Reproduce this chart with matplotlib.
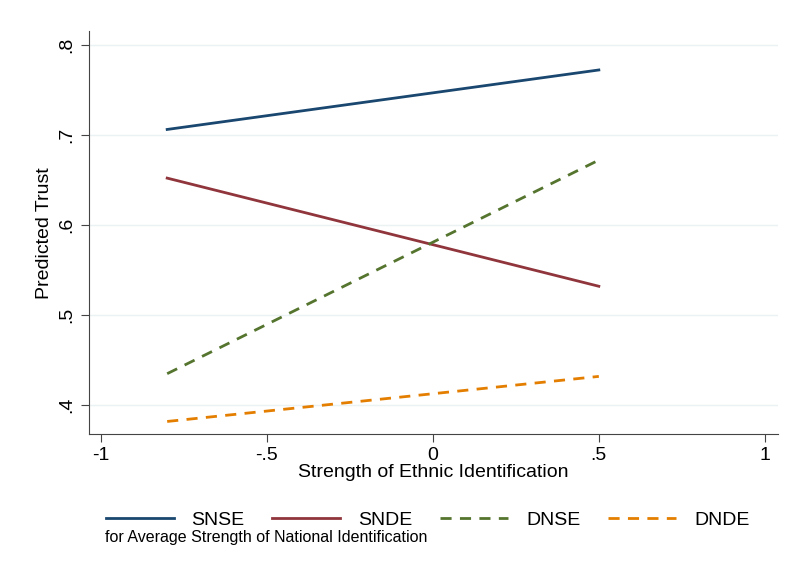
import matplotlib
matplotlib.use("Agg")
import matplotlib.pyplot as plt

plt.rcParams['font.family'] = ['Liberation Sans', 'DejaVu Sans']

x = [-0.8, 0.5]
snse = [0.706, 0.772]
snde = [0.652, 0.532]
dnse = [0.435, 0.672]
dnde = [0.382, 0.432]
labels = ['SNSE', 'SNDE', 'DNSE', 'DNDE']
colors = ['#1a476f', '#90353b', '#55752f', '#e37e00']
styles = ['-', '-', (0, (4, 3)), (0, (4, 3))]

xticks = [-1, -0.5, 0, 0.5, 1]
xticklabels = ['-1', '-.5', '0', '.5', '1']
yticks = [0.4, 0.5, 0.6, 0.7, 0.8]
yticklabels = ['.4', '.5', '.6', '.7', '.8']

fig = plt.figure(figsize=(7.86, 5.78), dpi=100)
ax = fig.add_axes([0.113, 0.249, 0.877, 0.697])

handles = []
for ys, lab, c, ls in zip([snse, snde, dnse, dnde], labels, colors, styles):
    h, = ax.plot(x, ys, color=c, lw=2, linestyle=ls, label=lab)
    handles.append(h)

ax.set_xlim(-1.036, 1.04)
ax.set_ylim(0.368, 0.815)
ax.set_xticks(xticks)
ax.set_xticklabels(xticklabels, fontsize=14)
ax.set_yticks(yticks)
ax.set_yticklabels(yticklabels, fontsize=14, rotation=90, va='center')
ax.grid(axis='y', color='#eaf2f3', lw=1)
ax.set_axisbelow(True)
for s in ['top', 'right']:
    ax.spines[s].set_visible(False)
for s in ['left', 'bottom']:
    ax.spines[s].set_color('#444444')
ax.tick_params(length=6, color='#444444')
ax.set_xlabel('Strength of Ethnic Identification', fontsize=14, labelpad=0)
ax.set_ylabel('Predicted Trust', fontsize=14, labelpad=4)

fig.legend(handles=handles, labels=labels, ncol=4, loc='center left',
           bbox_to_anchor=(0.112, 0.1), frameon=False, fontsize=14,
           handlelength=3.5, columnspacing=1.45, handletextpad=0.9)
fig.text(0.133, 0.07, 'for Average Strength of National Identification', fontsize=11.5,
         va='center')

fig.savefig('out.png', dpi=100)
